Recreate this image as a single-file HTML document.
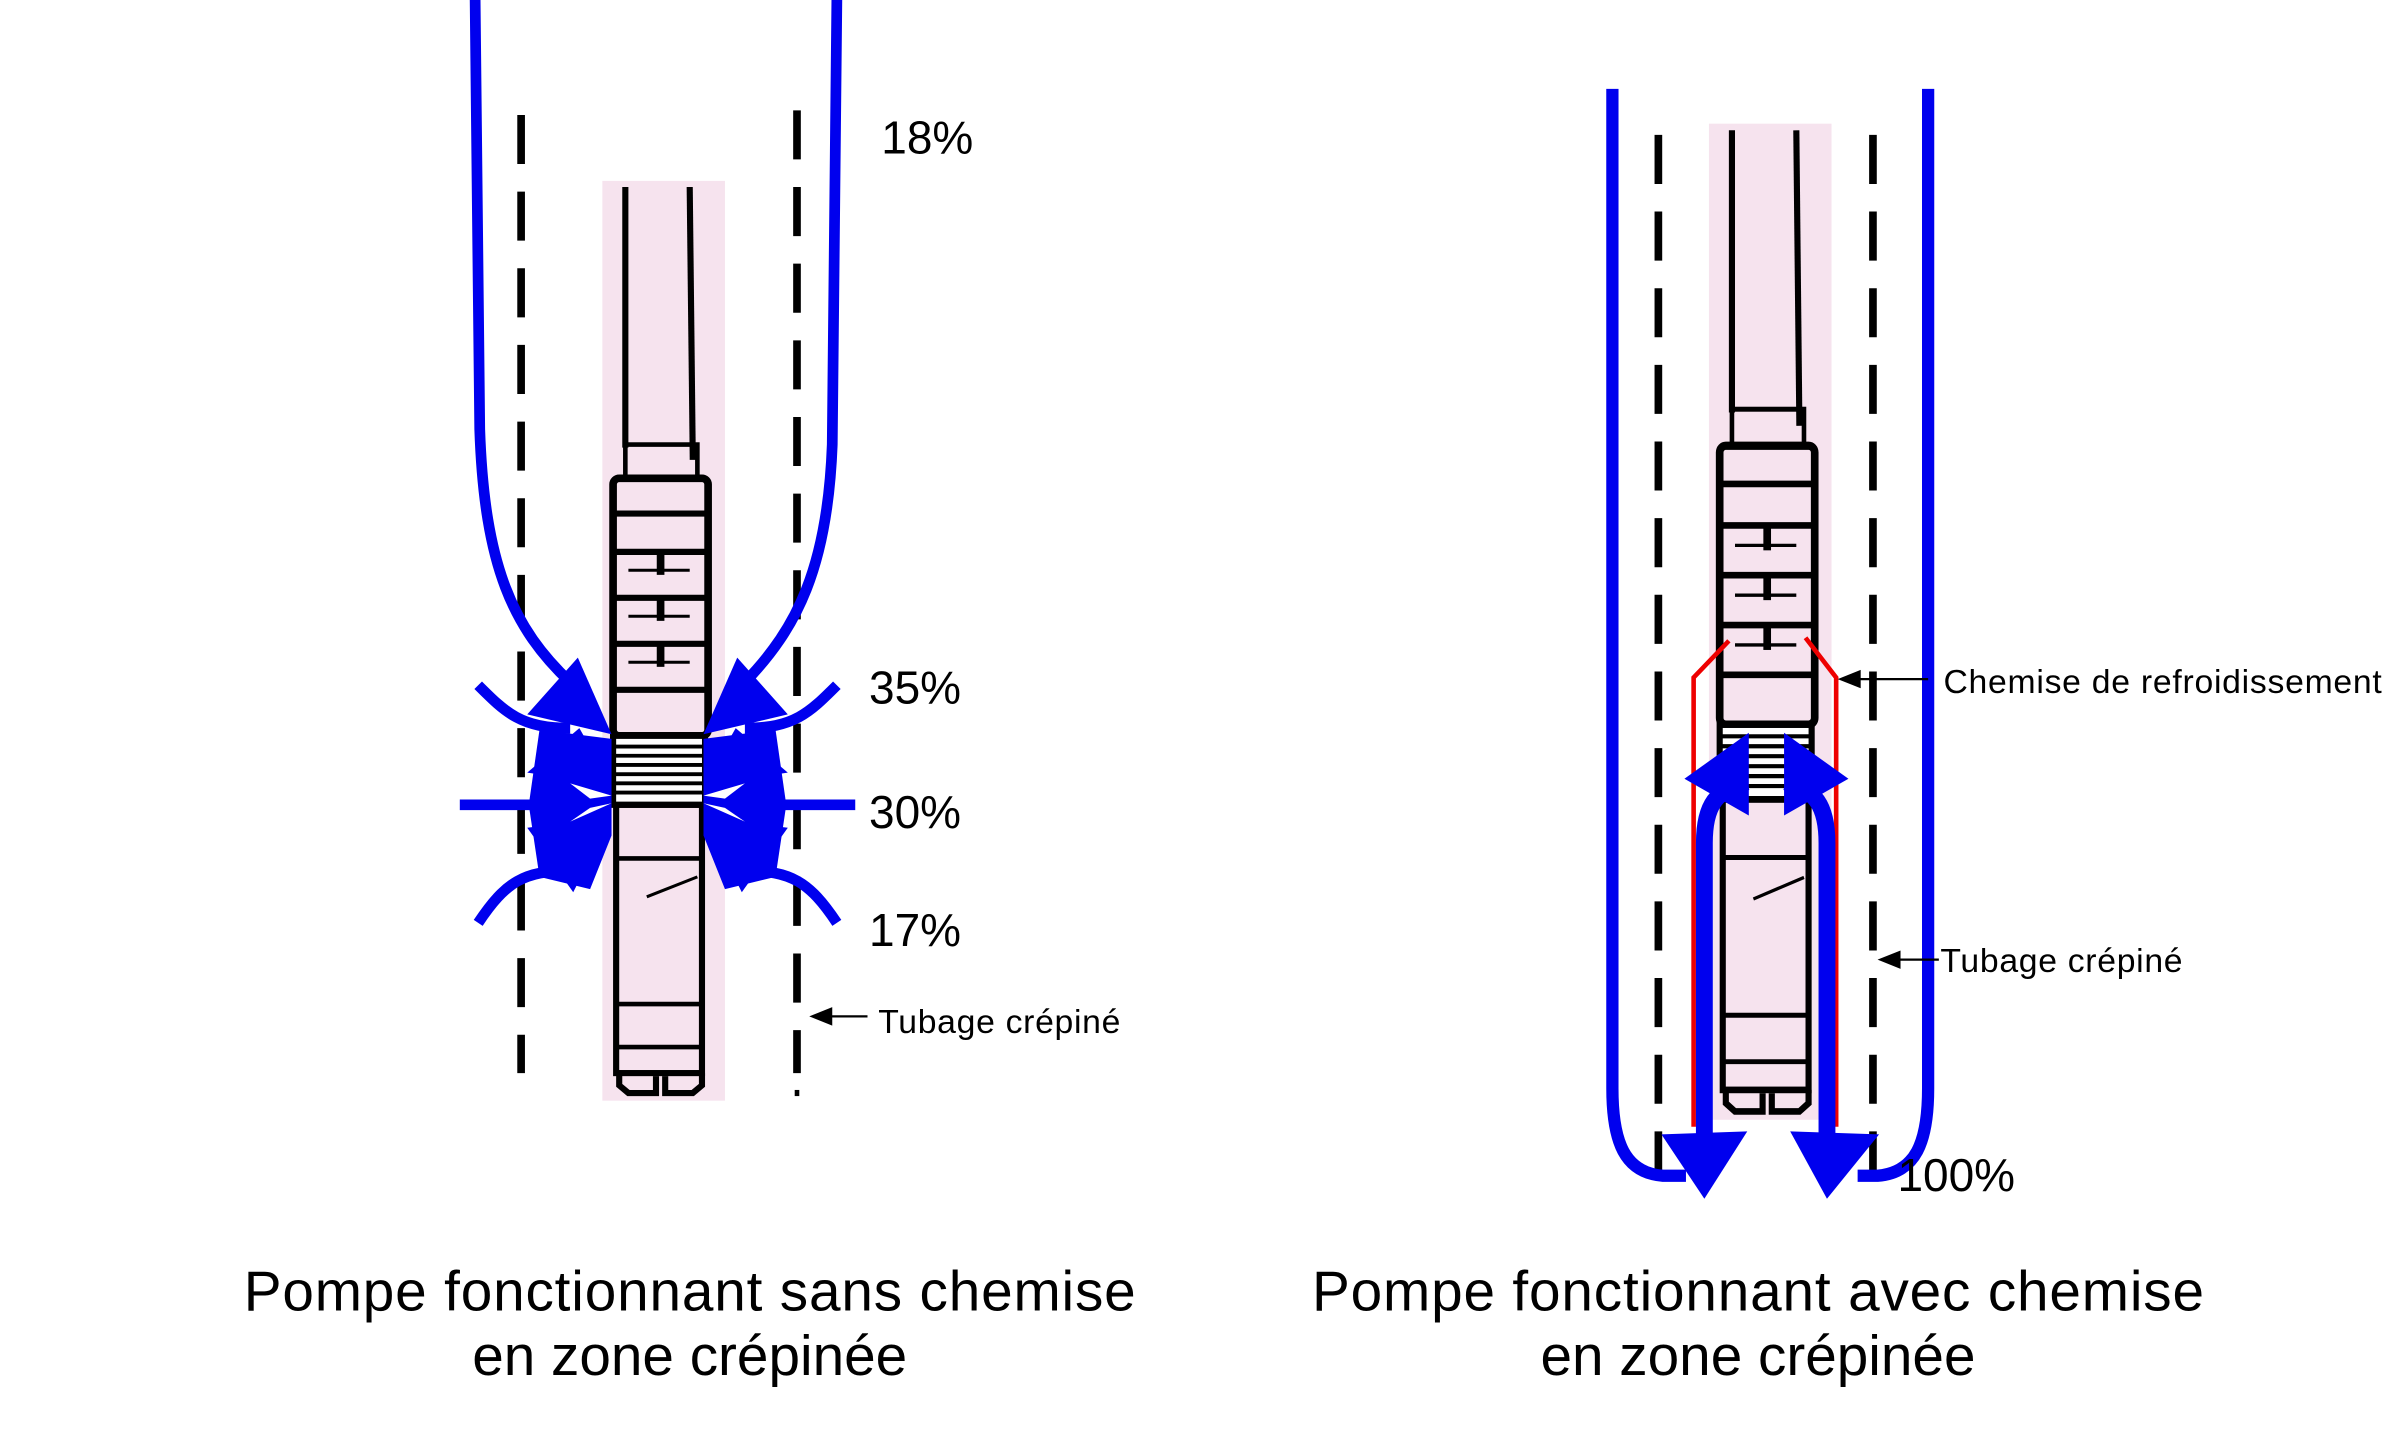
<!DOCTYPE html>
<html><head><meta charset="utf-8"><style>
html,body{margin:0;padding:0;background:#fff;}
svg{display:block;}
text{font-family:"Liberation Sans",Arial,sans-serif;fill:#000;}
</style></head><body>
<svg width="2391" height="1441" viewBox="0 0 1560 940" preserveAspectRatio="none" xmlns="http://www.w3.org/2000/svg">
<defs>
<g id="pump">
  <rect x="393" y="118" width="80" height="600" fill="#f6e3ee"/>
  <line x1="408" y1="122" x2="408" y2="292" stroke="#000" stroke-width="4"/>
  <line x1="450" y1="122" x2="452" y2="300" stroke="#000" stroke-width="4"/>
  <rect x="408" y="290" width="47" height="22" fill="none" stroke="#000" stroke-width="3"/>
  <rect x="400" y="312" width="62" height="168" fill="none" stroke="#000" stroke-width="5" rx="4"/>
  <g stroke="#000" stroke-width="4">
    <line x1="400" y1="335" x2="462" y2="335"/>
    <line x1="400" y1="360" x2="462" y2="360"/>
    <line x1="400" y1="390" x2="462" y2="390"/>
    <line x1="400" y1="420" x2="462" y2="420"/>
    <line x1="400" y1="450" x2="462" y2="450"/>
    <line x1="410" y1="372" x2="450" y2="372" stroke-width="2"/>
    <line x1="410" y1="402" x2="450" y2="402" stroke-width="2"/>
    <line x1="410" y1="432" x2="450" y2="432" stroke-width="2"/>
    <line x1="431" y1="360" x2="431" y2="375" stroke-width="5"/>
    <line x1="431" y1="390" x2="431" y2="405" stroke-width="5"/>
    <line x1="431" y1="420" x2="431" y2="435" stroke-width="5"/>
  </g>
  <rect x="400" y="480" width="60" height="45" fill="#fff" stroke="#000" stroke-width="4"/>
  <g stroke="#000" stroke-width="2.5">
    <line x1="400" y1="487" x2="460" y2="487"/><line x1="400" y1="493" x2="460" y2="493"/>
    <line x1="400" y1="499" x2="460" y2="499"/><line x1="400" y1="505" x2="460" y2="505"/>
    <line x1="400" y1="511" x2="460" y2="511"/><line x1="400" y1="517" x2="460" y2="517"/>
  </g>
  <rect x="402" y="525" width="56" height="175" fill="none" stroke="#000" stroke-width="4"/>
  <g stroke="#000" stroke-width="3">
    <line x1="402" y1="560" x2="458" y2="560"/>
    <line x1="402" y1="655" x2="458" y2="655"/>
    <line x1="402" y1="683" x2="458" y2="683"/>
    <line x1="422" y1="585" x2="455" y2="572" stroke-width="2"/>
  </g>
  <path d="M404 700 L404 708 L410 713 L428 713 L428 702 M434 702 L434 713 L452 713 L458 708 L458 700" fill="none" stroke="#000" stroke-width="4"/>
</g>
</defs>

<!-- LEFT DIAGRAM -->
<use href="#pump"/>
<g stroke="#000" stroke-width="5" stroke-dasharray="32,18">
  <line x1="340" y1="75" x2="340" y2="700"/>
  <line x1="520" y1="72" x2="520" y2="700"/>
</g>
<line x1="520" y1="711" x2="520" y2="715" stroke="#000" stroke-width="3"/>
<g fill="none" stroke="#0000ee" stroke-width="7">
  <path d="M310 0 L313 280 C316 370 335 410 372 445"/>
  <path d="M546 0 L543 290 C540 370 520 410 486 445"/>
  <path d="M312 447 C330 465 340 475 372 475"/>
  <path d="M546 447 C528 465 518 475 486 475"/>
  <path d="M300 525 L372 525"/>
  <path d="M558 525 L486 525"/>
  <path d="M312 602 C330 575 342 568 372 568"/>
  <path d="M546 602 C528 575 516 568 486 568"/>
</g>
<g fill="#0000ee">
  <polygon points="399,479 344,466 377,429"/>
  <polygon points="399,512 344,504 378,475"/>
  <polygon points="399,533 344,540 374,582"/>
  <polygon points="352,476 399,482 399,545 385,580 352,572 345,525"/>
  <polygon points="459,479 514,466 481,429"/>
  <polygon points="459,512 514,504 480,475"/>
  <polygon points="459,533 514,540 484,582"/>
  <polygon points="506,476 459,482 459,545 473,580 506,572 513,525"/>
</g>
<g fill="#fff">
  <polygon points="399,519 372,511 385,521"/>
  <polygon points="399,524 372,536 385,527"/>
  <polygon points="459,519 486,511 473,521"/>
  <polygon points="459,524 486,536 473,527"/>
</g>
<text x="575" y="100" font-size="30">18%</text>
<text x="567" y="459" font-size="30">35%</text>
<text x="567" y="540" font-size="30">30%</text>
<text x="567" y="617" font-size="30">17%</text>
<line x1="566" y1="663" x2="540" y2="663" stroke="#000" stroke-width="1.5"/>
<polygon points="528,663 543,657 543,669" fill="#000"/>
<text x="573" y="674" font-size="22" textLength="158">Tubage crépiné</text>
<text x="450" y="855" font-size="37" text-anchor="middle" textLength="582">Pompe fonctionnant sans chemise</text>
<text x="450" y="897" font-size="37" text-anchor="middle">en zone crépinée</text>

<!-- RIGHT DIAGRAM -->
<g transform="translate(722,85) scale(1,1.083) translate(0,-122)"><use href="#pump"/></g>
<g stroke="#000" stroke-width="5" stroke-dasharray="32,18">
  <line x1="1082" y1="88" x2="1082" y2="770"/>
  <line x1="1222" y1="88" x2="1222" y2="770"/>
</g>
<g fill="none" stroke="#ee0000" stroke-width="3">
  <path d="M1105 735 L1105 442 L1128 418"/>
  <path d="M1198 735 L1198 442 L1178 416"/>
</g>
<g fill="none" stroke="#0000ee" stroke-width="8">
  <path d="M1052 58 L1052 710 C1052 745 1060 765 1085 767 L1100 767"/>
  <path d="M1258 58 L1258 710 C1258 745 1250 765 1225 767 L1212 767"/>
</g>
<g fill="none" stroke="#0000ee" stroke-width="11">
  <path d="M1112 745 L1112 550 C1112 525 1120 515 1140 510"/>
  <path d="M1192 745 L1192 550 C1192 525 1184 515 1165 510"/>
</g>
<g fill="#0000ee">
  <polygon points="1099,508 1141,478 1141,532"/>
  <polygon points="1206,508 1164,478 1164,532"/>
  <polygon points="1112,782 1084,740 1140,738"/>
  <polygon points="1192,782 1168,738 1226,740"/>
</g>
<line x1="1258" y1="443" x2="1212" y2="443" stroke="#000" stroke-width="1.5"/>
<polygon points="1199,443 1214,437 1214,449" fill="#000"/>
<text x="1268" y="452" font-size="22" textLength="286">Chemise de refroidissement</text>
<line x1="1265" y1="626" x2="1238" y2="626" stroke="#000" stroke-width="1.5"/>
<polygon points="1225,626 1240,620 1240,632" fill="#000"/>
<text x="1266" y="634" font-size="22" textLength="158">Tubage crépiné</text>
<text x="1238" y="777" font-size="30">100%</text>
<text x="1147" y="855" font-size="37" text-anchor="middle" textLength="582">Pompe fonctionnant avec chemise</text>
<text x="1147" y="897" font-size="37" text-anchor="middle">en zone crépinée</text>
</svg>
</body></html>
